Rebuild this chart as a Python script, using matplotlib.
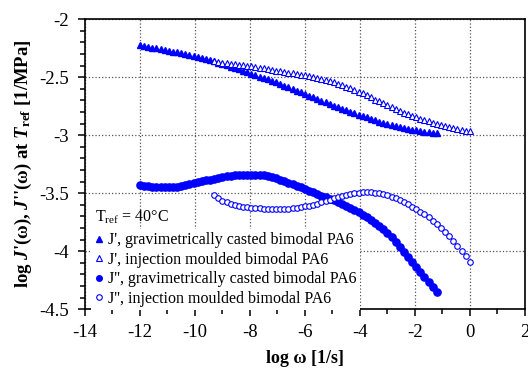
import numpy as np
import matplotlib
matplotlib.use("Agg")
import matplotlib.pyplot as plt
from matplotlib.ticker import MultipleLocator, FormatStrFormatter
from matplotlib.lines import Line2D

# === Fonts
plt.rcParams['font.family'] = ['Liberation Serif', 'DejaVu Serif']
plt.rcParams['mathtext.fontset'] = 'custom'
plt.rcParams['mathtext.rm'] = 'Liberation Serif'
plt.rcParams['mathtext.it'] = 'Liberation Serif:italic:bold'
plt.rcParams['mathtext.bf'] = 'Liberation Serif:bold'
plt.rcParams['axes.unicode_minus'] = False

# === Data (log omega [1/s], log J [1/MPa])
x_grav = [-12.0, -11.85, -11.7, -11.55, -11.4, -11.25, -11.1, -10.95, -10.8, -10.65,
          -10.5, -10.35, -10.2, -10.05, -9.9, -9.75, -9.6, -9.45, -9.3, -9.15,
          -9.0, -8.85, -8.7, -8.55, -8.4, -8.25, -8.1, -7.95, -7.8, -7.65,
          -7.5, -7.35, -7.2, -7.05, -6.9, -6.75, -6.6, -6.45, -6.3, -6.15,
          -6.0, -5.85, -5.7, -5.55, -5.4, -5.25, -5.1, -4.95, -4.8, -4.65,
          -4.5, -4.35, -4.2, -4.05, -3.9, -3.75, -3.6, -3.45, -3.3, -3.15,
          -3.0, -2.85, -2.7, -2.55, -2.4, -2.25, -2.1, -1.95, -1.8, -1.65,
          -1.5, -1.35, -1.2]

j1_grav = [-2.227, -2.233, -2.240, -2.246, -2.253, -2.259, -2.266, -2.272, -2.280, -2.287,
           -2.295, -2.302, -2.310, -2.317, -2.326, -2.336, -2.346, -2.355, -2.365, -2.375,
           -2.385, -2.397, -2.409, -2.421, -2.433, -2.445, -2.457, -2.469, -2.482, -2.495,
           -2.507, -2.520, -2.533, -2.546, -2.560, -2.574, -2.588, -2.603, -2.617, -2.631,
           -2.645, -2.660, -2.674, -2.688, -2.702, -2.717, -2.731, -2.745, -2.758, -2.771,
           -2.784, -2.797, -2.810, -2.823, -2.836, -2.848, -2.859, -2.871, -2.883, -2.894,
           -2.905, -2.914, -2.922, -2.930, -2.938, -2.945, -2.952, -2.959, -2.964, -2.969,
           -2.974, -2.979, -2.983]

j2_grav = [-3.430, -3.436, -3.441, -3.445, -3.448, -3.450, -3.450, -3.449, -3.447, -3.443,
           -3.438, -3.432, -3.425, -3.414, -3.407, -3.399, -3.391, -3.383, -3.375, -3.368,
           -3.361, -3.355, -3.350, -3.346, -3.343, -3.341, -3.340, -3.340, -3.341, -3.344,
           -3.348, -3.354, -3.361, -3.372, -3.385, -3.397, -3.410, -3.423, -3.437, -3.451,
           -3.465, -3.479, -3.493, -3.507, -3.521, -3.535, -3.549, -3.563, -3.578, -3.594,
           -3.610, -3.627, -3.645, -3.664, -3.685, -3.707, -3.730, -3.755, -3.781, -3.809,
           -3.840, -3.880, -3.922, -3.964, -4.007, -4.050, -4.093, -4.136, -4.180, -4.224,
           -4.268, -4.312, -4.356]

x_inj = [-9.3, -9.15, -9.0, -8.85, -8.7, -8.55, -8.4, -8.25, -8.1, -7.95,
         -7.8, -7.65, -7.5, -7.35, -7.2, -7.05, -6.9, -6.75, -6.6, -6.45,
         -6.3, -6.15, -6.0, -5.85, -5.7, -5.55, -5.4, -5.25, -5.1, -4.95,
         -4.8, -4.65, -4.5, -4.35, -4.2, -4.05, -3.9, -3.75, -3.6, -3.45,
         -3.3, -3.15, -3.0, -2.85, -2.7, -2.55, -2.4, -2.25, -2.1, -1.95,
         -1.8, -1.65, -1.5, -1.35, -1.2, -1.05, -0.9, -0.75, -0.6, -0.45,
         -0.3, -0.15, 0.0]

j1_inj = [-2.365, -2.370, -2.374, -2.379, -2.384, -2.388, -2.393, -2.397, -2.402, -2.407,
          -2.413, -2.419, -2.425, -2.431, -2.437, -2.443, -2.449, -2.455, -2.461, -2.467,
          -2.473, -2.479, -2.485, -2.492, -2.500, -2.508, -2.516, -2.525, -2.534, -2.545,
          -2.556, -2.568, -2.581, -2.595, -2.609, -2.624, -2.641, -2.658, -2.675, -2.693,
          -2.710, -2.727, -2.744, -2.760, -2.775, -2.790, -2.805, -2.820, -2.834, -2.848,
          -2.859, -2.870, -2.881, -2.892, -2.903, -2.914, -2.924, -2.932, -2.939, -2.946,
          -2.954, -2.961, -2.968]

j2_inj = [-3.520, -3.545, -3.565, -3.580, -3.592, -3.602, -3.610, -3.617, -3.622, -3.626,
          -3.629, -3.632, -3.634, -3.635, -3.636, -3.636, -3.636, -3.635, -3.633, -3.630,
          -3.626, -3.621, -3.615, -3.608, -3.600, -3.591, -3.580, -3.567, -3.555, -3.543,
          -3.532, -3.522, -3.513, -3.506, -3.500, -3.496, -3.493, -3.492, -3.493, -3.496,
          -3.502, -3.510, -3.520, -3.532, -3.546, -3.561, -3.578, -3.597, -3.617, -3.638,
          -3.660, -3.684, -3.710, -3.738, -3.768, -3.800, -3.833, -3.870, -3.910, -3.953,
          -3.998, -4.045, -4.090]

labels = ["J', gravimetrically casted bimodal PA6",
          "J', injection moulded bimodal PA6",
          "J'', gravimetrically casted bimodal PA6",
          "J'', injection moulded bimodal PA6"]

blue = '#0000ff'

# === Plot
fig = plt.figure(figsize=(5.28, 3.68), dpi=100)
ax = fig.add_axes([0.161, 0.160, 0.833, 0.788])

ax.plot(x_grav, j1_grav, ls='none', marker='^', ms=5.0, color=blue, mec=blue, zorder=3)
ax.plot(x_inj, j1_inj, ls='none', marker='^', ms=4.6, mfc='white', mec=blue, mew=0.8, zorder=3)
ax.plot(x_grav, j2_grav, ls='none', marker='o', ms=5.2, color=blue, mec=blue, zorder=3)
ax.plot(x_inj, j2_inj, ls='none', marker='o', ms=4.0, mfc='white', mec=blue, mew=0.8, zorder=3)

ax.set_xlim(-14, 2)
ax.set_ylim(-4.5, -2)
ax.xaxis.set_major_locator(MultipleLocator(2))
ax.xaxis.set_minor_locator(MultipleLocator(1))
ax.yaxis.set_major_locator(MultipleLocator(0.5))
ax.yaxis.set_minor_locator(MultipleLocator(0.1))
ax.xaxis.set_major_formatter(FormatStrFormatter('%g'))
ax.yaxis.set_major_formatter(FormatStrFormatter('%g'))

ax.grid(True, which='major', ls=':', color='#555555', lw=0.9)
ax.set_axisbelow(True)
ax.tick_params(which='both', direction='out', top=False, right=False, labelsize=13.5, width=1.1)
ax.tick_params(which='major', length=5)
ax.tick_params(which='minor', length=3.5)
ax.tick_params(axis='x', which='major', pad=6)
ax.tick_params(axis='y', which='major', pad=6.5)
for s in ax.spines.values():
    s.set_linewidth(1.2)

ax.set_xlabel("log ω [1/s]", fontsize=13, fontweight='bold', labelpad=6)
ax.set_ylabel(r"log $\mathit{J}$'(ω), $\mathit{J}$''(ω) at $\mathit{T}_{\mathbf{ref}}$ [1/MPa]",
              fontsize=13.5, fontweight='bold', labelpad=4)

# === Legend
handles = [
    Line2D([], [], ls='none', marker='^', ms=4, color=blue),
    Line2D([], [], ls='none', marker='^', ms=4, mfc='white', mec=blue, mew=0.8),
    Line2D([], [], ls='none', marker='o', ms=4, color=blue),
    Line2D([], [], ls='none', marker='o', ms=4, mfc='white', mec=blue, mew=0.8),
]
leg = ax.legend(handles, labels, loc='upper left', bbox_to_anchor=(0.014, 0.276),
                fontsize=11.5, frameon=True, fancybox=False, edgecolor='none',
                framealpha=1, borderpad=0.2, labelspacing=0.22,
                handlelength=0.6, handletextpad=0.25, borderaxespad=0)
ax.text(0.023, 0.317, r"T$_{\mathrm{ref}}$ = 40°C", transform=ax.transAxes,
        fontsize=11.5, va='center', ha='left')

plt.savefig("out.png", dpi=100)
